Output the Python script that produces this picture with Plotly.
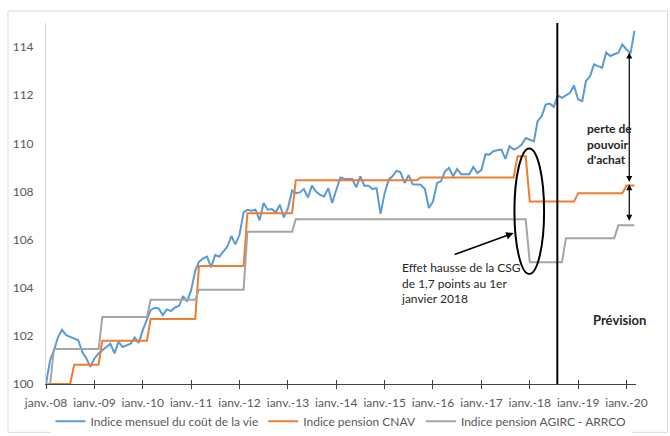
import pandas as pd
import plotly.graph_objects as go

# Monthly dates, Jan 2008 – Mar 2020
months = pd.date_range("2008-01-01", periods=147, freq="MS")

# Monthly cost-of-living index (base 100 = Jan 2008), forecast after mid-2018
cout_vie = [
    100.0, 101.0, 101.4, 101.95, 102.25, 102.03, 101.96, 101.89, 101.82, 101.33, 101.06, 100.71,
    101.06, 101.27, 101.4, 101.54, 101.68, 101.27, 101.75, 101.54, 101.6, 101.68, 101.93, 101.71,
    102.24, 102.72, 103.07, 103.17, 103.14, 102.86, 103.1, 103.03, 103.18, 103.24, 103.65, 103.42,
    103.9, 104.7, 105.08, 105.22, 105.29, 104.85, 105.36, 105.29, 105.5, 105.71, 106.15, 105.8,
    106.2, 107.13, 107.24, 107.2, 107.24, 106.8, 107.52, 107.24, 107.27, 107.14, 107.45, 106.92,
    107.31, 108.04, 107.93, 107.96, 108.1, 107.75, 108.24, 108.0, 107.86, 107.79, 108.14, 107.52,
    108.07, 108.58, 108.53, 108.53, 108.52, 108.17, 108.63, 108.24, 108.24, 108.1, 108.14, 107.07,
    107.93, 108.49, 108.63, 108.86, 108.8, 108.35, 108.68, 108.3, 108.3, 108.28, 108.1, 107.31,
    107.58, 108.35, 108.42, 108.84, 108.98, 108.63, 108.93, 108.72, 108.72, 108.72, 109.02, 108.77,
    108.9, 109.55, 109.53, 109.67, 109.71, 109.74, 109.35, 109.88, 109.74, 109.81, 109.95, 110.22,
    110.15, 110.08, 110.92, 111.13, 111.61, 111.65, 111.52, 111.99, 111.89, 111.99, 112.1, 112.4,
    111.82, 111.75, 112.58, 112.79, 113.28, 113.21, 113.14, 113.77, 113.63, 113.7, 113.77, 114.11,
    113.9, 113.74, 114.67,
]

# CNAV pension index, monthly (constant between revaluations)
pension_cnav = (
    [100.0] * 7 + [100.8] * 7 + [101.8] * 12 + [102.7] * 12 + [104.9] * 12
    + [107.1] * 12 + [108.47] * 31 + [108.58] * 24 + [109.46] * 3
    + [107.58] * 12 + [107.93] * 12 + [108.25] * 3
)

# AGIRC - ARRCO pension index, monthly
pension_agirc = (
    [100.0] * 2 + [101.45] * 12 + [102.78] * 12 + [103.5] * 12 + [103.92] * 12
    + [106.33] * 12 + [106.85] * 58 + [105.06] * 9 + [106.06] * 13 + [106.6] * 5
)

series_names = [
    "Indice mensuel du coût de la vie",
    "Indice pension CNAV",
    "Indice pension AGIRC - ARRCO",
]
series_colors = ["#5B9BD5", "#ED7D31", "#A5A5A5"]

tick_dates = pd.date_range("2008-01-01", "2020-01-01", freq="YS")
tick_labels = [f"janv.-{d.year % 100:02d}" for d in tick_dates]
y_ticks = [100, 102, 104, 106, 108, 110, 112, 114]

FONT = "Lato, 'Open Sans', sans-serif"
TXT = "#595959"

fig = go.Figure()
for name, vals, col in zip(series_names, [cout_vie, pension_cnav, pension_agirc], series_colors):
    fig.add_trace(go.Scatter(
        x=months, y=vals, mode="lines", name=name,
        line=dict(color=col, width=2),
    ))

x_end = pd.Timestamp("2020-03-13")

fig.update_layout(
    width=670, height=436,
    margin=dict(l=46, r=34, t=23, b=52, autoexpand=False),
    paper_bgcolor="white", plot_bgcolor="white",
    font=dict(family=FONT, size=12, color=TXT),
    showlegend=True,
    legend=dict(
        orientation="h", x=0.5, xanchor="center", y=-0.103, yanchor="middle",
        font=dict(family=FONT, size=12, color=TXT),
        itemwidth=30, tracegroupgap=0,
    ),
    xaxis=dict(
        type="date", range=[months[0], x_end],
        tickvals=tick_dates, ticktext=tick_labels,
        showgrid=False, zeroline=False,
        showline=True, linecolor="#404040", linewidth=1,
        ticks="outside", ticklen=4, tickcolor="#404040", tickwidth=1,
        ticklabelstandoff=4,
        tickfont=dict(family=FONT, size=12, color=TXT),
    ),
    xaxis2=dict(
        type="date", overlaying="x", matches="x", anchor="y",
        tickvals=tick_dates, ticktext=tick_labels, showticklabels=False,
        showgrid=False, zeroline=False, showline=False,
        ticks="inside", ticklen=4, tickcolor="#404040", tickwidth=1,
    ),
    yaxis=dict(
        range=[100, 115], tickvals=y_ticks,
        showgrid=False, zeroline=False,
        showline=True, linecolor="#D9D9D9", linewidth=1,
        ticks="", ticklabelstandoff=9,
        tickfont=dict(family=FONT, size=12, color=TXT),
    ),
)

# invisible trace so the overlaid tick axis is drawn
fig.add_trace(go.Scatter(x=[months[0]], y=[100], xaxis="x2", mode="markers",
                         marker=dict(opacity=0), showlegend=False, hoverinfo="skip"))

# outer chart frame
fig.add_shape(type="rect", xref="paper", yref="paper",
              x0=-0.0644, x1=1.0534, y0=-0.134, y1=1.0333,
              line=dict(color="#D9D9D9", width=1), layer="below")

# forecast boundary
fig.add_shape(type="line", xref="x", yref="y",
              x0="2018-07-28", x1="2018-07-28", y0=100, y1=115,
              line=dict(color="black", width=2))

# ellipse around the CSG drop
fig.add_shape(type="circle", xref="x", yref="y",
              x0="2017-09-07", x1="2018-04-19", y0=104.57, y1=109.79,
              line=dict(color="black", width=2))

# arrow from note to ellipse
fig.add_annotation(x="2017-09-01", y=106.27, ax="2016-06-01", ay=105.36,
                   xref="x", yref="y", axref="x", ayref="y",
                   text="", showarrow=True, arrowhead=2, arrowsize=1,
                   arrowwidth=1.5, arrowcolor="black")

fig.add_annotation(x="2015-04-19", y=104.18, xref="x", yref="y",
                   text="Effet hausse de la CSG<br>de 1,7 points au 1er<br>janvier 2018",
                   showarrow=False, xanchor="left", yanchor="middle", align="left",
                   font=dict(family=FONT, size=12, color="#262626"))

# purchasing-power gap arrows
fig.add_annotation(x="2020-01-22", y=113.77, ax="2020-01-22", ay=108.33,
                   xref="x", yref="y", axref="x", ayref="y",
                   text="", showarrow=True, arrowhead=2, startarrowhead=2,
                   arrowside="end+start", arrowsize=1, startarrowsize=1,
                   arrowwidth=1.2, arrowcolor="black")
fig.add_annotation(x="2020-01-22", y=108.3, ax="2020-01-22", ay=106.72,
                   xref="x", yref="y", axref="x", ayref="y",
                   text="", showarrow=True, arrowhead=2, startarrowhead=2,
                   arrowside="end+start", arrowsize=1, startarrowsize=1,
                   arrowwidth=1.2, arrowcolor="black")

fig.add_annotation(x="2019-02-24", y=109.99, xref="x", yref="y",
                   text="<b>perte de<br>pouvoir<br>d'achat</b>",
                   showarrow=False, xanchor="left", yanchor="middle", align="left",
                   font=dict(family=FONT, size=12, color="#262626"))

fig.add_annotation(x="2019-11-10", y=102.65, xref="x", yref="y",
                   text="<b>Prévision</b>", showarrow=False,
                   xanchor="center", yanchor="middle",
                   font=dict(family=FONT, size=13, color="#262626"))

fig.write_html("out.html")
